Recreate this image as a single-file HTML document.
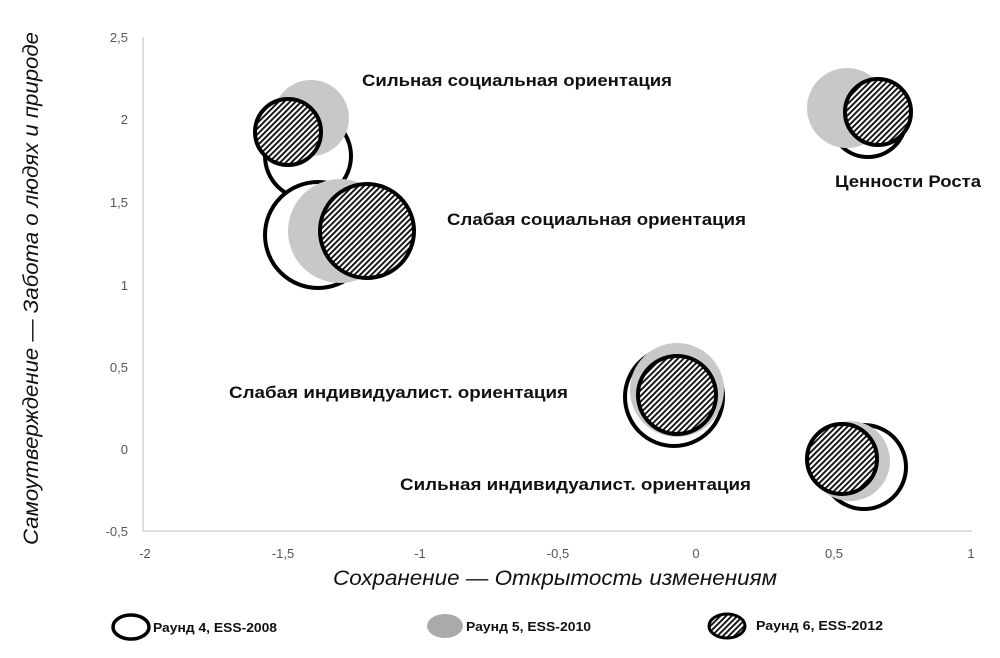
<!DOCTYPE html>
<html><head><meta charset="utf-8"><style>body{margin:0;background:#fff}svg{display:block}</style></head><body>
<svg width="1000" height="658" xmlns="http://www.w3.org/2000/svg" font-family="Liberation Sans, DejaVu Sans, sans-serif">
<defs><pattern id="h" width="4" height="4" patternUnits="userSpaceOnUse" patternTransform="rotate(45)"><rect width="4" height="4" fill="#fff"/><rect width="1.9" height="4" fill="#111"/></pattern></defs>
<line x1="143" y1="37" x2="143" y2="531" stroke="#bbb"/>
<line x1="143" y1="531" x2="972" y2="531" stroke="#bbb"/>
<g font-size="13" fill="#555" text-anchor="end">
<text x="128" y="42">2,5</text><text x="128" y="124">2</text><text x="128" y="207">1,5</text><text x="128" y="290">1</text><text x="128" y="372">0,5</text><text x="128" y="454">0</text><text x="128" y="536">-0,5</text></g>
<g font-size="13" fill="#555" text-anchor="middle">
<text x="145" y="558">-2</text><text x="283" y="558">-1,5</text><text x="420" y="558">-1</text><text x="558" y="558">-0,5</text><text x="696" y="558">0</text><text x="834" y="558">0,5</text><text x="971" y="558">1</text></g>
<text x="333" y="585" font-size="21" font-style="italic" fill="#111" textLength="444" lengthAdjust="spacingAndGlyphs">Сохранение — Открытость изменениям</text>
<text transform="translate(38,545) rotate(-90)" font-size="21" font-style="italic" fill="#111" textLength="513" lengthAdjust="spacingAndGlyphs">Самоутверждение — Забота о людях и природе</text>
<g stroke="#000" stroke-width="4">
<circle cx="308" cy="156" r="43" fill="#fff"/><circle cx="311" cy="118" r="38" fill="#c8c8c8" stroke="none"/><circle cx="288" cy="132" r="33" fill="url(#h)"/>
<circle cx="318" cy="235" r="53" fill="#fff"/><circle cx="340" cy="231" r="52" fill="#c8c8c8" stroke="none"/><circle cx="367" cy="231" r="47" fill="url(#h)"/>
<circle cx="674" cy="397" r="49" fill="#fff"/><circle cx="677" cy="390" r="47" fill="#c8c8c8" stroke="none"/><circle cx="677" cy="395" r="39" fill="url(#h)"/>
<circle cx="864" cy="467" r="42" fill="#fff"/><circle cx="850" cy="461" r="40" fill="#c8c8c8" stroke="none"/><circle cx="842" cy="459" r="35" fill="url(#h)"/>
<circle cx="868" cy="119" r="38" fill="#fff"/><circle cx="847" cy="108" r="40" fill="#c8c8c8" stroke="none"/><circle cx="878" cy="112" r="33" fill="url(#h)"/>
</g>
<g font-size="17" font-weight="bold" fill="#111" lengthAdjust="spacingAndGlyphs">
<text x="362" y="86" textLength="310" lengthAdjust="spacingAndGlyphs">Сильная социальная ориентация</text>
<text x="447" y="225" textLength="299" lengthAdjust="spacingAndGlyphs">Слабая социальная ориентация</text>
<text x="835" y="187" textLength="146" lengthAdjust="spacingAndGlyphs">Ценности Роста</text>
<text x="229" y="398" textLength="339" lengthAdjust="spacingAndGlyphs">Слабая индивидуалист. ориентация</text>
<text x="400" y="490" textLength="351" lengthAdjust="spacingAndGlyphs">Сильная индивидуалист. ориентация</text>
</g>
<ellipse cx="131" cy="627" rx="18" ry="12" fill="#fff" stroke="#000" stroke-width="3.5"/>
<ellipse cx="445" cy="626" rx="18" ry="12" fill="#aaa"/>
<ellipse cx="727" cy="626" rx="18" ry="12" fill="url(#h)" stroke="#000" stroke-width="3"/>
<g font-size="13" font-weight="bold" fill="#111">
<text x="153" y="632" textLength="124" lengthAdjust="spacingAndGlyphs">Раунд 4, ESS-2008</text>
<text x="466" y="631" textLength="125" lengthAdjust="spacingAndGlyphs">Раунд 5, ESS-2010</text>
<text x="756" y="630" textLength="127" lengthAdjust="spacingAndGlyphs">Раунд 6, ESS-2012</text>
</g>
</svg>
</body></html>
